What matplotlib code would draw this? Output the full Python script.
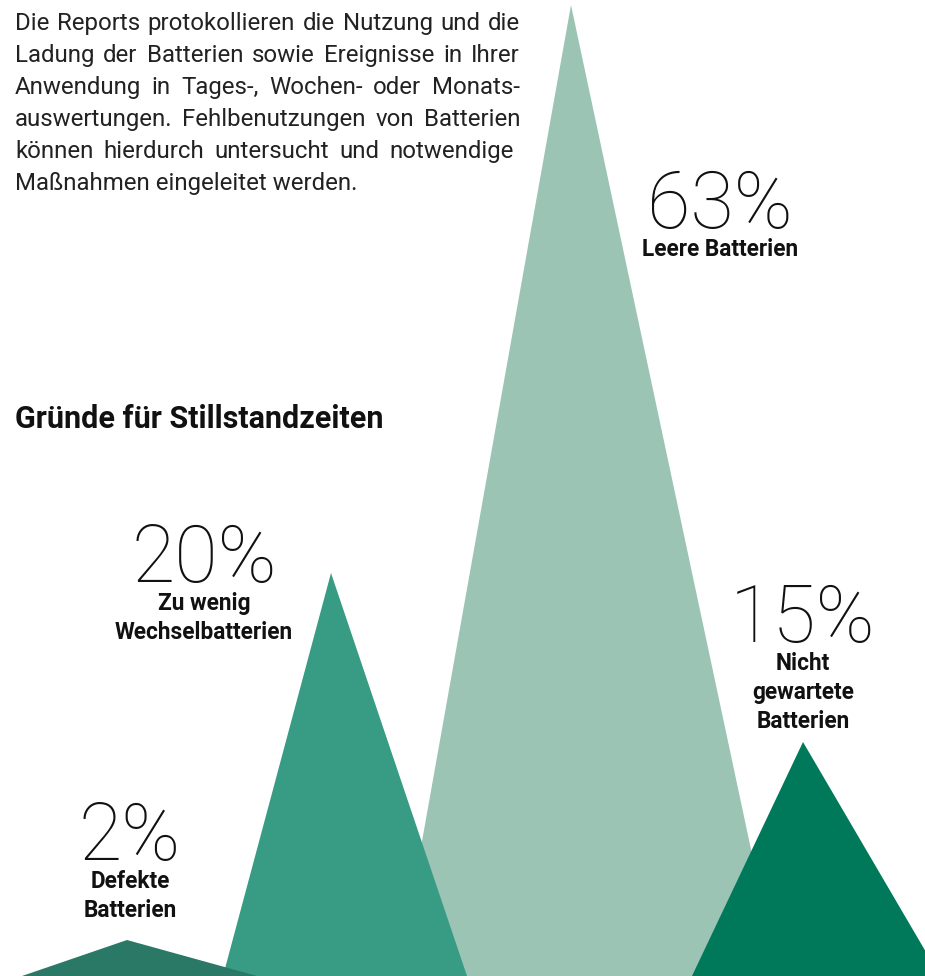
import matplotlib
matplotlib.use("Agg")
import matplotlib.pyplot as plt
from matplotlib.patches import Polygon

# ---- data ----
categories = ["Leere Batterien", "Zu wenig\nWechselbatterien", "Defekte\nBatterien", "Nicht\ngewartete\nBatterien"]
values = [63, 20, 2, 15]
# triangle geometry (pixel-like units, y up from the baseline)
peak_x = [571, 331, 127, 803]
peak_h = [971, 403, 36, 234]
base_left = [398, 223, 22, 692]
base_right = [778, 467, 257, 940]
colors = ["#9cc4b5", "#389b84", "#2a7866", "#00795a"]
label_x = [720, 204, 130, 803]
label_top = [228, 582, 860, 642]   # baseline of the big number (pixels from top)

title = "Gründe für Stillstandzeiten"
paragraph = [
    "Die Reports protokollieren die Nutzung und die",
    "Ladung der Batterien sowie Ereignisse in Ihrer",
    "Anwendung in Tages-, Wochen- oder Monats-",
    "auswertungen. Fehlbenutzungen von Batterien",
    "können hierdurch untersucht und notwendige ",
    "Maßnahmen eingeleitet werden.",
]

W, H = 925, 976
fig = plt.figure(figsize=(W / 100, H / 100), dpi=100)
ax = fig.add_axes([0, 0, 1, 1])
ax.set_xlim(0, W)
ax.set_ylim(0, H)
ax.axis("off")

FONT = "Roboto"

def Y(y):
    return H - y

# triangles
for i in range(len(values)):
    tri = Polygon([(base_left[i], 0), (peak_x[i], peak_h[i]), (base_right[i], 0)],
                  closed=True, facecolor=colors[i], edgecolor="none", zorder=1 + i)
    ax.add_patch(tri)

# labels
for i in range(len(values)):
    ax.text(label_x[i], Y(label_top[i]), f"{values[i]}%", fontsize=57, fontweight="light",
            family=FONT, ha="center", va="baseline", color="#111111", zorder=10)
    for j, line in enumerate(categories[i].split("\n")):
        ax.text(label_x[i], Y(label_top[i] + 28 + j * 29), line, fontsize=16.3, fontweight="bold",
                family=FONT, ha="center", va="baseline", color="#111111", zorder=10)

# title
ax.text(15, Y(428), title, fontsize=22, fontweight="bold", family=FONT,
        ha="left", va="baseline", color="#111111")

# justified paragraph
renderer = fig.canvas.get_renderer()
left, right = 15, 520
fs = 17.3

def width(s):
    t = ax.text(0, 0, s, fontsize=fs, family=FONT)
    w = t.get_window_extent(renderer).width
    t.remove()
    return w

space_w = width("x x") - width("xx")
for k, line in enumerate(paragraph):
    yb = Y(30 + 32 * k)
    if k == len(paragraph) - 1:
        ax.text(left, yb, line, fontsize=fs, family=FONT, color="#222222", va="baseline")
        continue
    target = right - left
    if line.endswith(" "):
        target -= space_w
    words = line.split()
    ws = [width(w) for w in words]
    gap = (target - sum(ws)) / (len(words) - 1)
    x = left
    for w, wd in zip(words, ws):
        ax.text(x, yb, w, fontsize=fs, family=FONT, color="#222222", va="baseline")
        x += wd + gap

fig.savefig("out.png", dpi=100)
